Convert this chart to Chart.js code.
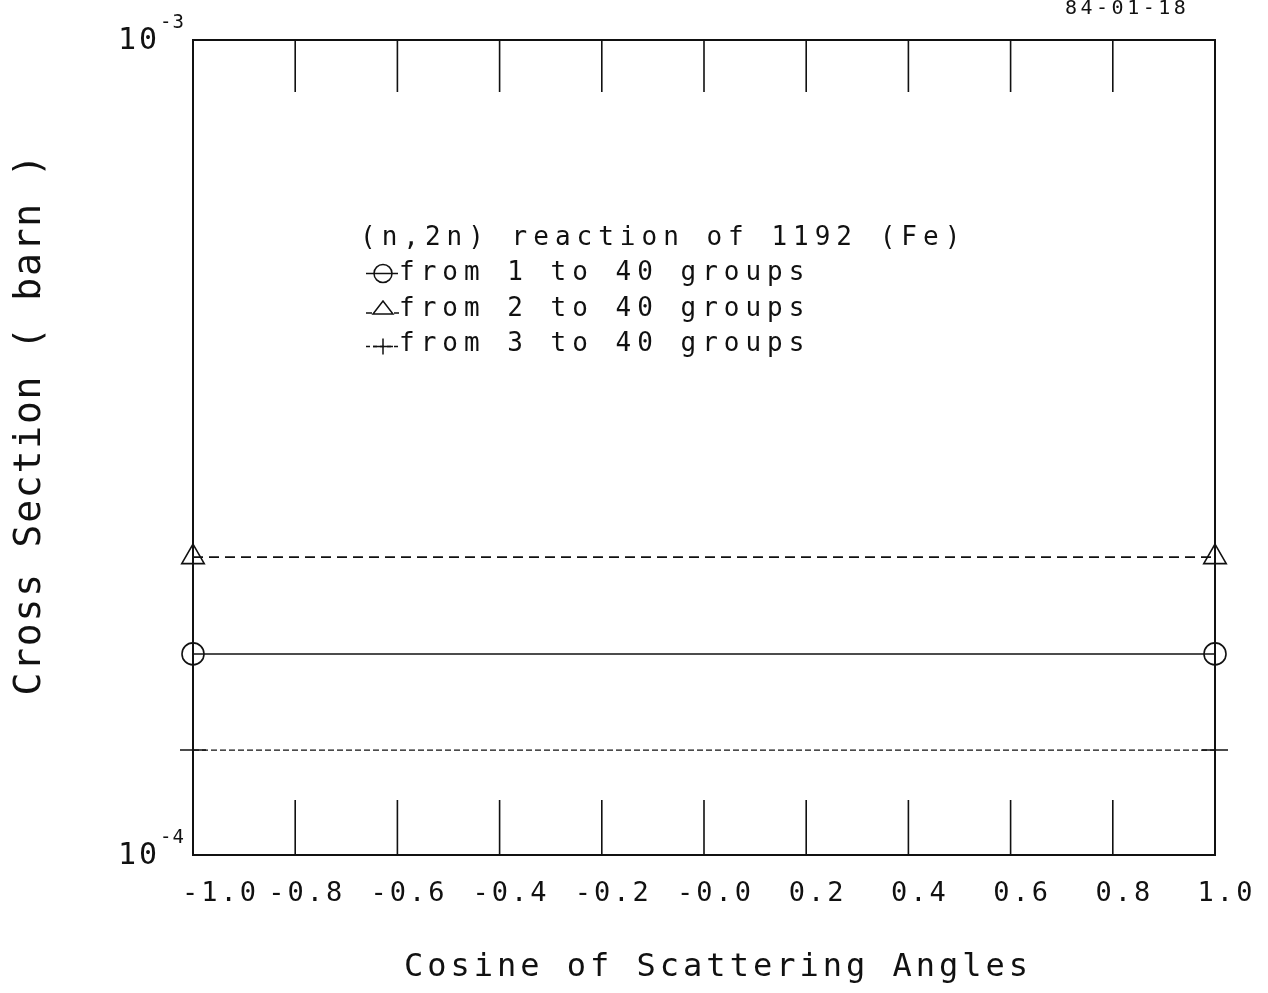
<!DOCTYPE html>
<html>
<head>
<meta charset="utf-8">
<title>(n,2n) reaction of 1192 (Fe)</title>
<script src="https://cdn.jsdelivr.net/npm/chart.js@4.4.1/dist/chart.umd.min.js"></script>
<style>
  html, body { margin: 0; padding: 0; background: #fff; }
  canvas { display: block; }
</style>
</head>
<body>
<canvas id="chart" width="1268" height="993"></canvas>
<script>
// data (log y axis, barn)
const cosines = [-1.0, 1.0];
const sigma1to40 = [1.765e-4, 1.765e-4];
const sigma2to40 = [2.32e-4, 2.32e-4];
const sigma3to40 = [1.345e-4, 1.345e-4];

const seriesNames = ['from 1 to 40 groups', 'from 2 to 40 groups', 'from 3 to 40 groups'];
const legendTitle = '(n,2n) reaction of 1192 (Fe)';

const xTickValues = [-1.0, -0.8, -0.6, -0.4, -0.2, 0.0, 0.2, 0.4, 0.6, 0.8, 1.0];
const xTickLabels = ['-1.0', '-0.8', '-0.6', '-0.4', '-0.2', '-0.0', '0.2', '0.4', '0.6', '0.8', '1.0'];
const yTickValues = [1e-4, 1e-3];
const yTickExponents = ['-4', '-3'];

const xTitle = 'Cosine of Scattering Angles';
const yTitle = 'Cross Section ( barn )';
const dateStamp = '84-01-18';

const MONO = '"DejaVu Sans Mono", "Liberation Mono", monospace';
const INK = '#111';

/**
 * Text helper, canvas letterSpacing gives the wide plotter look
 */
function drawText(ctx, text, x, y, size, spacing, align, baseline) {
  ctx.save();
  ctx.font = `${size}px ${MONO}`;
  ctx.letterSpacing = `${spacing}px`;
  ctx.fillStyle = INK;
  ctx.textAlign = 'left';
  ctx.textBaseline = baseline || 'middle';
  let w = ctx.measureText(text).width - spacing;
  let left = x;
  if (align === 'center') left = x - w / 2;
  if (align === 'right') left = x - w;
  ctx.fillText(text, left, y);
  ctx.restore();
}

/**
 * Frame, inward ticks, labels, titles and the legend block
 */
const plotterDecor = {
  id: 'plotterDecor',
  afterDatasetsDraw(chart) {
    const { ctx, chartArea: a, scales } = chart;
    const xs = scales.x;
    const ys = scales.y;

    ctx.save();
    ctx.strokeStyle = INK;
    ctx.lineWidth = 2;
    ctx.strokeRect(a.left, a.top, a.right - a.left, a.bottom - a.top);

    // inward ticks on top and bottom edges
    ctx.lineWidth = 1.6;
    ctx.beginPath();
    xTickValues.forEach(v => {
      if (v <= -1 || v >= 1) return;
      const px = xs.getPixelForValue(v);
      ctx.moveTo(px, a.top);
      ctx.lineTo(px, a.top + 52);
      ctx.moveTo(px, a.bottom);
      ctx.lineTo(px, a.bottom - 55);
    });
    ctx.stroke();
    ctx.restore();

    // x tick labels
    xTickValues.forEach((v, i) => {
      const px = xs.getPixelForValue(v) + (i === 0 ? 26 : 10);
      drawText(ctx, xTickLabels[i], px, a.bottom + 39, 27, 3, 'center');
    });

    // y tick labels 10^n
    yTickValues.forEach((v, i) => {
      const py = ys.getPixelForValue(v);
      drawText(ctx, '10', 157, py + 1, 30, 3, 'right');
      drawText(ctx, yTickExponents[i], 160, py - 12, 19, 1, 'left', 'alphabetic');
    });

    // axis titles
    drawText(ctx, xTitle, 716, 968, 32, 4, 'center');
    ctx.save();
    ctx.translate(30, 425);
    ctx.rotate(-Math.PI / 2);
    drawText(ctx, yTitle, 0, 0, 38, 1.8, 'center');
    ctx.restore();

    // date stamp
    drawText(ctx, dateStamp, 1065, 14, 20, 3.5, 'left', 'alphabetic');

    // legend
    const lx = 360, ly = 238, step = 35.5, tx = 399, sx = 383;
    drawText(ctx, legendTitle, lx, ly, 26, 6, 'left');
    ctx.save();
    ctx.strokeStyle = INK;
    ctx.lineWidth = 1.5;
    // circle, solid
    let y1 = ly + step;
    ctx.beginPath();
    ctx.moveTo(366, y1); ctx.lineTo(398, y1);
    ctx.stroke();
    ctx.beginPath();
    ctx.arc(sx, y1, 9, 0, Math.PI * 2);
    ctx.stroke();
    // triangle, dashed
    let y2 = ly + 2 * step;
    ctx.beginPath();
    ctx.moveTo(366, y2 + 4); ctx.lineTo(372, y2 + 4);
    ctx.moveTo(394, y2 + 4); ctx.lineTo(399, y2 + 4);
    ctx.moveTo(sx - 10, y2 + 5); ctx.lineTo(sx, y2 - 8); ctx.lineTo(sx + 10, y2 + 5); ctx.closePath();
    ctx.stroke();
    // cross, short dashes
    let y3 = ly + 3 * step;
    ctx.setLineDash([4, 3]);
    ctx.beginPath();
    ctx.moveTo(366, y3 + 2); ctx.lineTo(399, y3 + 2);
    ctx.stroke();
    ctx.setLineDash([]);
    ctx.beginPath();
    ctx.moveTo(sx - 10, y3 + 2); ctx.lineTo(sx + 10, y3 + 2);
    ctx.moveTo(sx, y3 - 6); ctx.lineTo(sx, y3 + 10);
    ctx.stroke();
    ctx.restore();
    seriesNames.forEach((name, i) => {
      drawText(ctx, name, tx, ly + (i + 1) * step, 26, 6, 'left');
    });
  }
};

const toPoints = ys => cosines.map((c, i) => ({ x: c, y: ys[i] }));

new Chart(document.getElementById('chart'), {
  type: 'line',
  data: {
    datasets: [
      {
        label: seriesNames[0],
        data: toPoints(sigma1to40),
        borderColor: INK,
        borderWidth: 1.5,
        pointStyle: 'circle',
        pointRadius: 11,
        pointBorderWidth: 1.6,
        pointBorderColor: INK,
        pointBackgroundColor: 'rgba(0,0,0,0)',
        clip: false
      },
      {
        label: seriesNames[1],
        data: toPoints(sigma2to40),
        borderColor: INK,
        borderWidth: 1.8,
        borderDash: [10, 6],
        pointStyle: 'triangle',
        pointRadius: 13,
        pointBorderWidth: 1.6,
        pointBorderColor: INK,
        pointBackgroundColor: 'rgba(0,0,0,0)',
        clip: false
      },
      {
        label: seriesNames[2],
        data: toPoints(sigma3to40),
        borderColor: INK,
        borderWidth: 1.4,
        borderDash: [6, 3],
        pointStyle: 'cross',
        pointRadius: 13,
        pointBorderWidth: 1.5,
        pointBorderColor: INK,
        clip: false
      }
    ]
  },
  options: {
    responsive: false,
    animation: false,
    layout: { padding: { left: 193, right: 53, top: 40, bottom: 138 } },
    plugins: {
      legend: { display: false },
      tooltip: { enabled: false }
    },
    scales: {
      x: { type: 'linear', min: -1, max: 1, display: false },
      y: { type: 'logarithmic', min: 1e-4, max: 1e-3, display: false }
    }
  },
  plugins: [plotterDecor]
});
</script>
</body>
</html>
